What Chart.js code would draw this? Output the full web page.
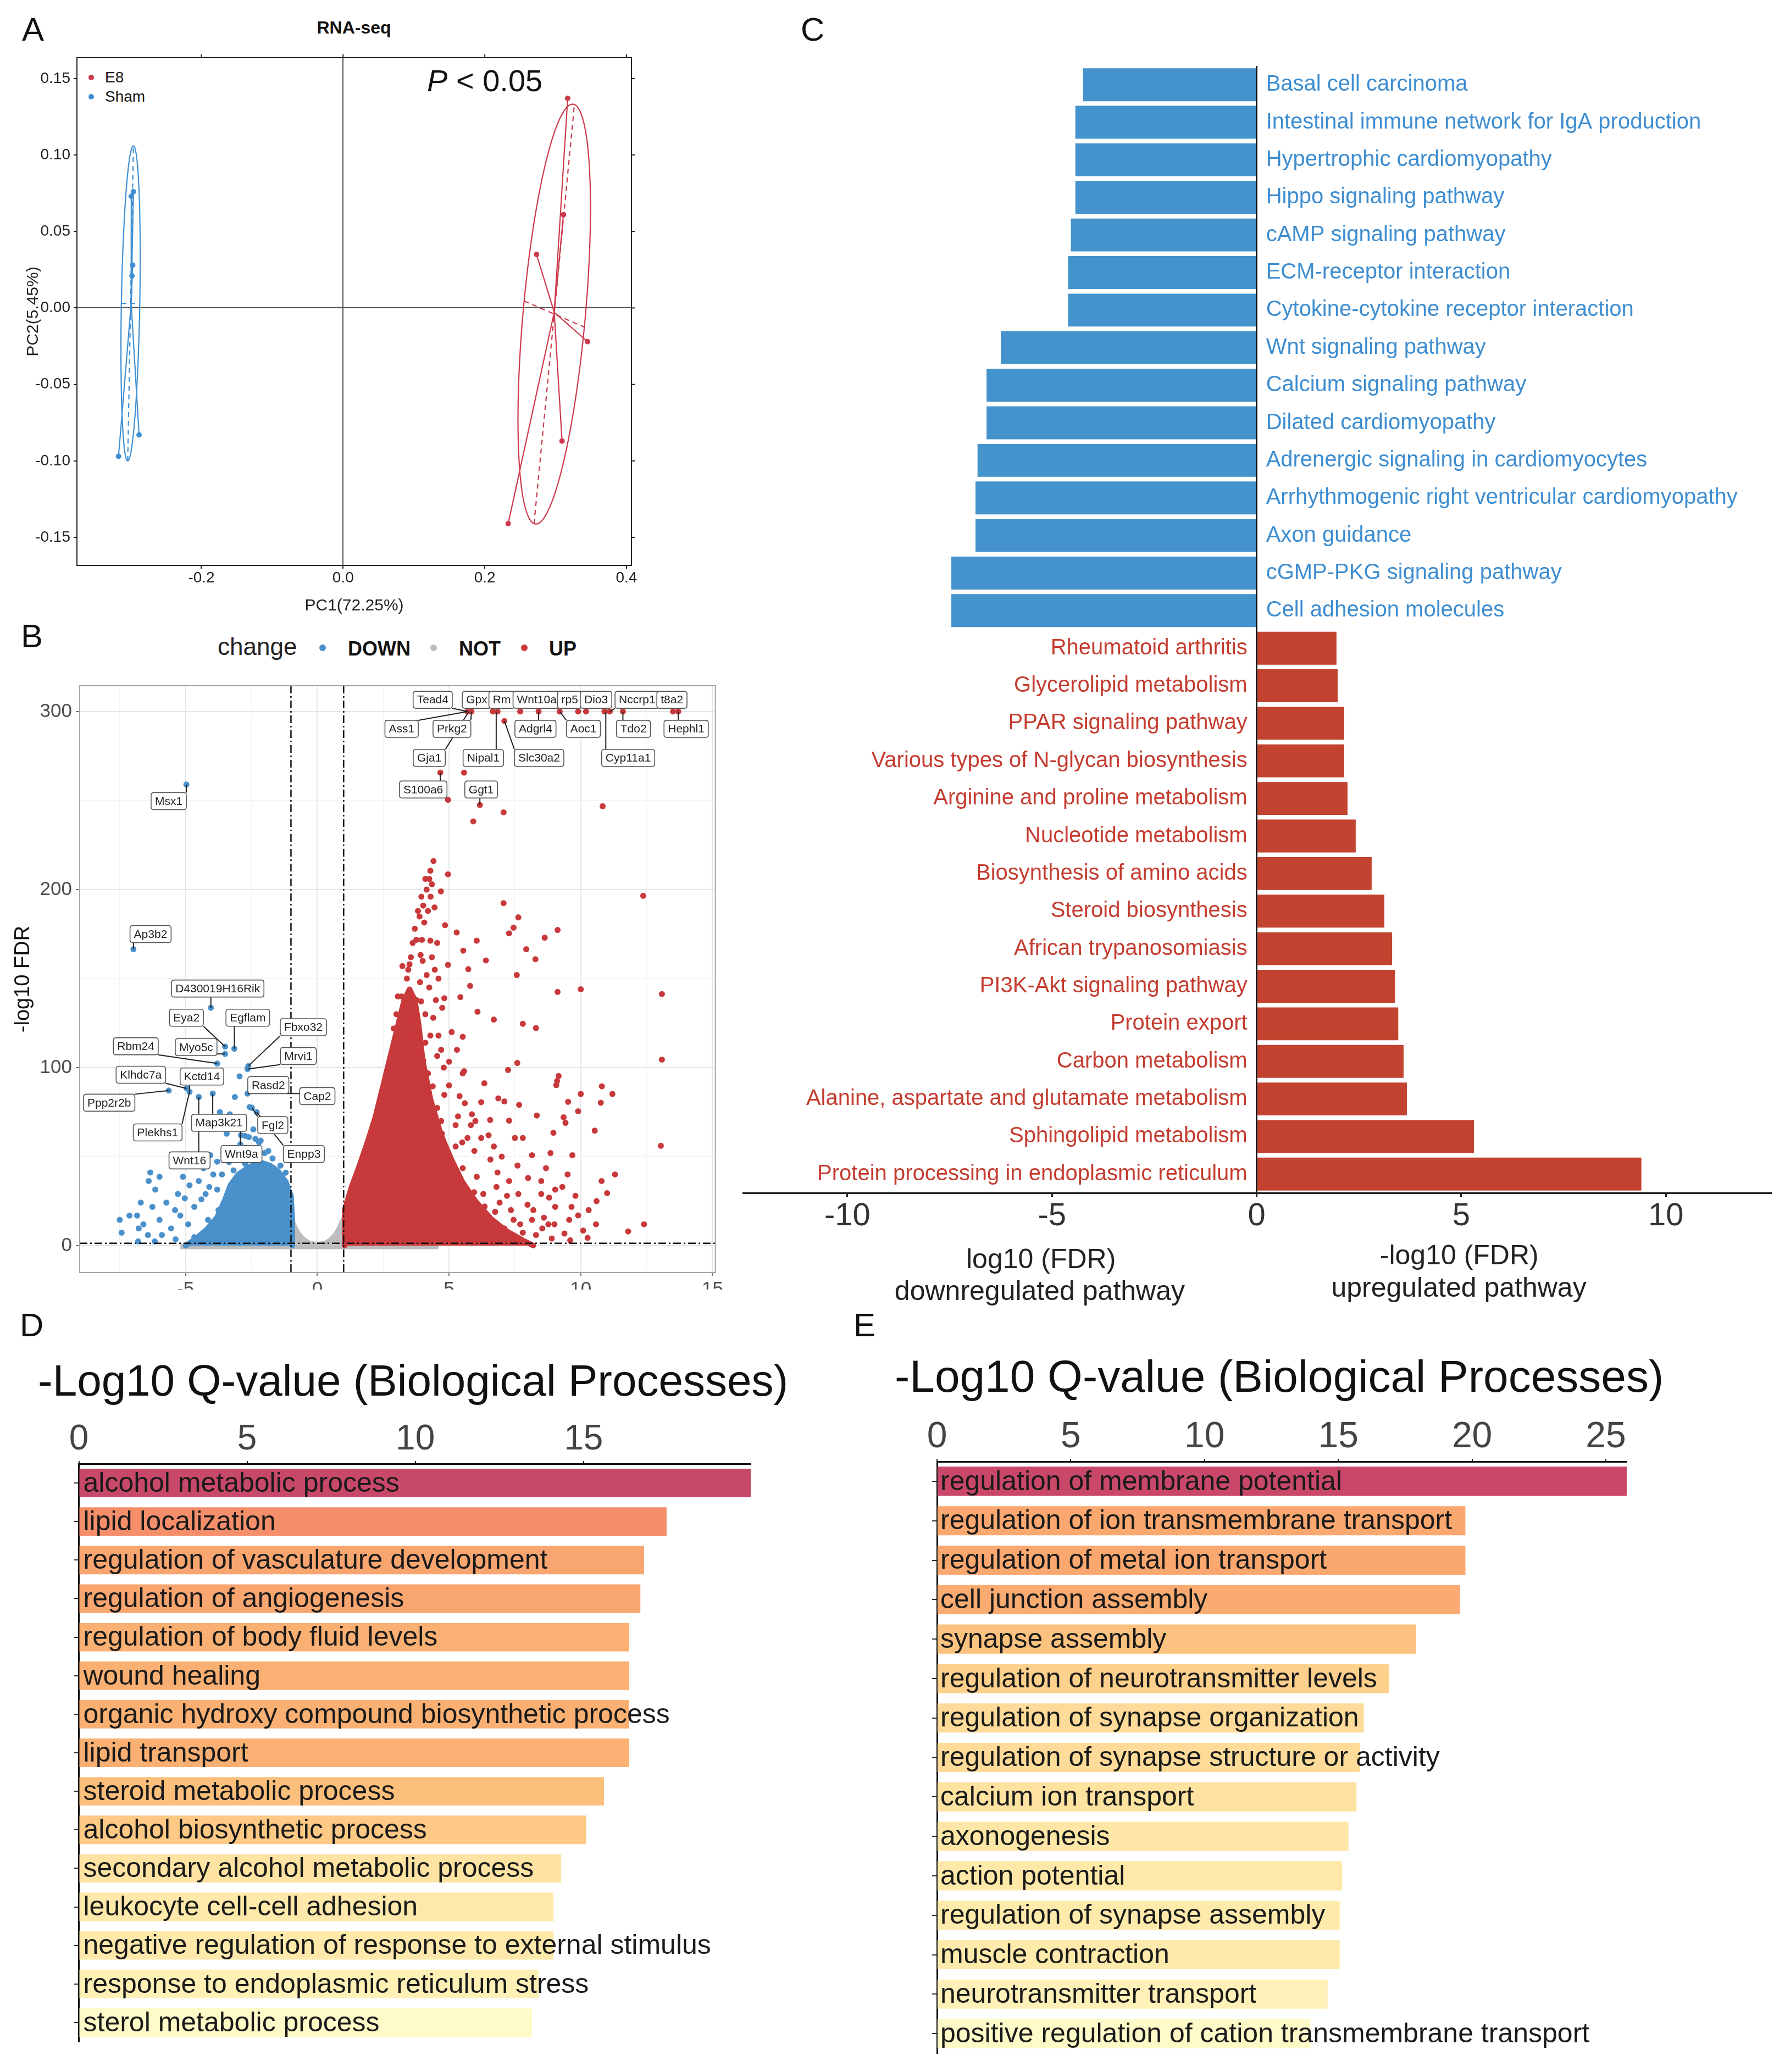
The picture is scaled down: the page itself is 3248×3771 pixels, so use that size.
<!DOCTYPE html>
<html>
<head>
<meta charset="utf-8">
<script src="https://cdn.jsdelivr.net/npm/chart.js@4.4.1/dist/chart.umd.min.js"></script>
<style>
  html, body { margin: 0; padding: 0; background: #fff; }
  #page { position: relative; width: 3248px; height: 3771px; overflow: hidden; background: #fff;
          font-family: "Liberation Sans", Arial, sans-serif; color: #111; }
  .txt { position: absolute; white-space: nowrap; line-height: 1; }
  .dot { position: absolute; border-radius: 50%; }
</style>
</head>
<body>
<div id="page"></div>
<script>
// ---------- A: PCA ----------
const e8Points = [[0.317, 0.137], [0.311, 0.061], [0.273, 0.035], [0.345, -0.022], [0.309, -0.087], [0.233, -0.141]];
const shamPoints = [[-0.296, 0.076], [-0.299, 0.073], [-0.297, 0.028], [-0.298, 0.021], [-0.317, -0.097], [-0.288, -0.083]];
// ellipse: centre, major semi-axis vector (u), minor semi-axis vector (v)
const e8Ellipse = {cx: 0.298, cy: -0.004, ux: 0.0285, uy: 0.137, vx: 0.0425, vy: -0.0085};
const shamEllipse = {cx: -0.300, cy: 0.003, ux: 0.004, uy: 0.103, vx: 0.013, vy: 0};
const pcaXTicks = [-0.2, 0, 0.2, 0.4];
const pcaYTicks = [-0.15, -0.10, -0.05, 0, 0.05, 0.10, 0.15];

// ---------- B: volcano ----------
const upGenes = [
  [5.70,300],[5.85,300],[6.66,300],[6.84,300],[7.70,300],[8.40,300],[9.20,300],[9.90,300],[10.20,300],[10.90,300],[11.10,300],[11.60,300],[13.50,300],[13.70,300],[7.10,294.7],
  [4.67,265.7],[5.57,265.7],[4.96,250.4],[6.17,247.5],[5.92,238.3],[7.07,243.4],[10.83,246.8],
  [4.41,216],[4.29,210.6],[4.10,206],[4.25,206],[4.35,203],[4.96,208.6],[4.69,199],[12.37,196.5],[7.07,192.4],[4.02,191],[3.88,184.9],[4.06,181.5],[7.63,184.4],[7.45,178.6],[7.28,175.4],[5.29,175.9],[9.12,177.3],[8.63,173],[3.76,171.8],[3.97,171.8],[4.29,171.3],[6.05,171.3],[3.92,163.3],[5.54,165.7],[7.93,166.5],[8.28,160.9],[6.40,160.2],[4.96,157.7],[5.73,155.3],[3.50,158],[4.46,155],[4.15,152],[7.57,152],[5.80,145.9],[9.12,142.5],[10.00,144],[13.08,141.3],[5.43,139.6],[4.82,139],[4.50,137.9],[3.94,137.2],[4.74,133.6],[6.08,131.4],[6.70,127],[7.80,124.6],[8.30,122.2],[5.52,117.3],[3.85,117],[4.29,118],[4.10,114],[7.59,102.6],[13.08,104.5],[5.00,103.3],[4.80,100],[7.24,98.7],[5.57,98],[9.16,95.3],[9.10,92.5],[6.34,91.2],[9.07,90.2],[10.80,89.5],[11.20,85.2],[10.00,85.2],[5.40,84],[4.20,84],[4.00,82],[6.87,82.7],[7.10,81],[7.66,79.1],[9.52,80.8],[10.76,80.3],[6.22,80.6],[5.87,73.8],[8.33,73.1],[9.35,72.1],[9.90,75.5],[7.28,70.2],[6.56,70.6],[9.42,69],[5.83,67.7],[5.25,67.7],[10.53,64.6],[8.96,63.4],[7.50,60.5],[6.70,55.7],[9.68,50.8],[13.04,56.1],[10.79,36.3],[11.00,29.5],[9.65,21.8],[10.09,8.5],[9.38,6.8],[10.58,12],[10.26,4.4],[8.60,15.7],[8.54,9.7],
  [5.52,43.5],[6.05,38.7],[6.57,48.4],[6.84,41.1],[7.28,36.3],[7.63,29],[7.98,23],[8.15,50.8],[8.68,43.5],[8.85,52],[8.50,36.3],[9.03,31.5],[6.30,29],[6.92,24.2],[7.45,14.5],[7.10,9.7],[7.80,7.3],[6.57,14.5],[5.87,19.4],[5.34,29],[4.99,36.3],[4.82,48.4],[4.46,55.7],[5.25,55.7],[5.70,60.5],[6.22,60.5],[4.73,62.9],[4.29,70.2],[4.55,77.4],[4.82,84.7],[4.38,89.5],[4.20,96.8],[4.02,104],[3.85,109],[4.55,106.5],[5.52,96.8],[5.34,72.6],[5.96,53.2],[7.80,60.5],[8.50,29],[9.03,21.8],[8.15,14.5],[8.77,12],[9.56,14.5],[9.90,17],[7.28,2.4],[6.22,7.3],[5.70,12],[5.25,17],[4.82,21.8],
  [3.23,157],[3.40,150],[3.06,140],[3.32,133],[3.58,126],[3.76,138],[3.58,118.5],[3.15,113.7],[3.40,104],[3.67,96.8],[3.94,89.5],[3.23,94.4],[3.67,82.3],[3.40,77.4],
  [3.55,162],[3.62,170],[3.70,178],[3.82,188],[3.95,196],[4.15,200],[4.30,196],[4.20,188],[4.45,190],[4.00,160],[4.25,145],[4.40,128],[3.45,155],[3.20,140],[3.00,130],[2.90,122],[3.35,120],[3.80,125],[4.60,118],[4.70,110],[3.90,148],[4.10,130],[4.35,162],[4.55,170],[4.85,180],[4.60,150],[5.10,120],[5.30,110],[5.00,90],[4.70,70],[5.60,80],[6.00,70],[5.50,58],[6.50,62],[7.00,50],[7.60,45],[8.00,38],[8.80,27],[9.30,33],[9.80,28],[10.30,20],[9.50,40],[7.20,28],[6.80,33],[8.20,20],[9.00,12],[10.60,25],[11.30,40],[12.40,12],[11.80,8],
  [5.05,40],[5.40,34],[5.95,30],[6.35,22],[6.75,19],[7.35,20],[7.70,12],[8.30,6],[8.90,4],[9.60,3],[6.00,10],[6.90,5],[5.60,6],[4.40,50],[4.70,40],[5.20,25],[4.10,66],[4.35,58],[3.95,74]
];
const downGenes = [
  [-4.97,259],[-6.98,166.5],[-4.04,133.6],[-3.50,111.8],[-3.15,110.6],[-3.50,107.7],[-3.80,102.3],[-2.62,100.9],[-2.65,99.2],[-2.95,95.1],[-5.64,87.1],[-4.96,88.3],[-4.85,86.4],[-4.50,83.5],[-3.97,85.4],[-3.32,73.8],[-2.65,85.4],[-3.13,83.5],[-2.57,77.9],[-2.48,77.4],[-2.30,75],[-3.00,70.2],[-3.70,75],[-3.44,62.9],[-2.90,62],[-2.60,61],[-2.35,60],[-2.15,59],[-1.86,53.2],[-3.80,47.2],[-2.92,71],
  [-6.34,41.1],[-5.99,38.7],[-6.40,36.3],[-6.15,31.5],[-7.13,16.9],[-7.50,14.5],[-7.43,7.3],[-6.84,16.9],[-6.78,9.7],[-6.80,2.4],
  [-5.99,14.5],[-5.73,24.2],[-6.26,21.8],[-5.29,29],[-5.03,26.6],[-4.85,33.9],[-5.20,16.9],[-5.55,9.7],[-4.50,36.3],[-4.32,43.5],[-4.67,21.8],[-4.15,14.5],[-4.24,29],[-3.80,31.5],[-3.62,40],[-3.18,42.3],[-2.74,46],[-3.44,24.2],[-3.97,7.3],[-4.67,4.8],[-5.38,3.6],[-5.90,6],[-6.60,12],[-6.43,6],[-6.17,2.4],[-6.70,24.2],[-5.10,38.7],[-4.76,46],[-4.06,50.8],[-3.27,52],[-2.57,50.8],[-2.92,56.9],[-2.21,58],[-2.43,65.3],[-2.74,61.7],
  [-3.95,40],[-4.10,33],[-4.40,26],[-3.75,20],[-4.90,12],[-5.40,20],[-3.55,48],[-2.00,52],[-1.70,49],[-1.40,45],[-1.20,41],[-3.35,47]
];
// outlines (upper edge) of the solid, overplotted clouds
const upCloud = [[1.04,0],[1.04,20],[1.3,33],[1.6,45],[1.9,58],[2.2,72],[2.5,90],[2.8,108],[3.1,126],[3.3,138],[3.5,144],[3.7,138],[3.85,124],[4.0,104],[4.3,82],[4.7,62],[5.1,48],[5.5,36],[6.0,25],[6.6,15],[7.2,8],[7.8,3],[8.2,0]];
const downCloud = [[-5.0,0],[-4.6,4],[-4.2,9],[-3.8,16],[-3.5,26],[-3.3,34],[-3.0,40],[-2.6,44],[-2.2,47],[-1.8,45],[-1.5,42],[-1.2,36],[-1.0,28],[-0.95,15],[-0.95,0]];
const notCloud = [[-1,0],[-1,15],[-0.85,10],[-0.7,6],[-0.5,3],[-0.3,1.2],[0,0.5],[0.3,1.2],[0.5,3],[0.7,6],[0.85,10],[1,15],[1,0]];
const notBand = [[-5.2,1.2],[4.6,1.2]];
const volcanoXTicks = [-7.5, -5, -2.5, 0, 2.5, 5, 7.5, 10, 12.5, 15];
const volcanoYTicks = [0, 50, 100, 150, 200, 250, 300];
const fcCut = 1, fdrCut = 1.301;
// gene, point x, point y, label x, label y
const geneLabels = [
  ['Tead4',5.70,300,4.38,306.6],['Gpx',5.85,300,6.05,306.6],['Rm',6.84,300,7.00,306.6],['Wnt10a',7.70,300,8.33,306.6],
  ['rp5',9.20,300,9.58,306.6],['Dio3',9.90,300,10.58,306.6],['Nccrp1',11.10,300,12.14,306.6],['t8a2',13.50,300,13.46,306.6],
  ['Ass1',5.70,300,3.20,290.3],['Prkg2',5.85,300,5.11,290.3],['Adgrl4',8.40,300,8.28,290.3],['Aoc1',9.20,300,10.10,290.3],
  ['Tdo2',11.60,300,12.00,290.3],['Hephl1',13.70,300,14.00,290.3],
  ['Gja1',5.75,300,4.25,273.9],['Nipal1',6.79,300,6.30,273.9],['Slc30a2',7.10,294.7,8.42,273.9],['Cyp11a1',10.95,300,11.80,273.9],
  ['S100a6',4.67,265.7,4.02,256.2],['Ggt1',6.17,247.5,6.22,256.2],
  ['Msx1',-4.97,259,-5.64,249.7],['Ap3b2',-6.98,166.5,-6.33,175],['D430019H16Rik',-4.04,133.6,-3.78,144.4],
  ['Eya2',-3.50,111.8,-4.97,128],['Egflam',-3.15,110.6,-2.64,128],['Fbxo32',-2.62,100.9,-0.53,122.7],
  ['Rbm24',-3.80,102.3,-6.89,112],['Myo5c',-3.50,107.7,-4.60,111.5],['Mrvi1',-2.65,99.2,-0.72,106.5],
  ['Klhdc7a',-4.96,88.3,-6.70,96],['Kctd14',-4.85,86.4,-4.38,95],['Ppp2r2b',-5.64,87.1,-7.90,80.3],
  ['Rasd2',-2.65,85.4,-1.86,90.2],['Cap2',-2.65,85.4,0.00,84],['Plekhs1',-4.85,86.4,-6.06,63.6],
  ['Map3k21',-3.97,85.4,-3.73,69],['Fgl2',-2.48,77.4,-1.69,67.7],['Wnt16',-4.50,83.5,-4.85,47.9],
  ['Wnt9a',-2.92,71,-2.88,51.5],['Enpp3',-2.30,75,-0.51,51.5]
];

// ---------- C: KEGG ----------
const downPathways = ['Basal cell carcinoma','Intestinal immune network for IgA production','Hypertrophic cardiomyopathy','Hippo signaling pathway','cAMP signaling pathway','ECM-receptor interaction','Cytokine-cytokine receptor interaction','Wnt signaling pathway','Calcium signaling pathway','Dilated cardiomyopathy','Adrenergic signaling in cardiomyocytes','Arrhythmogenic right ventricular cardiomyopathy','Axon guidance','cGMP-PKG signaling pathway','Cell adhesion molecules'];
const downLog10FDR = [-4.24, -4.43, -4.43, -4.43, -4.54, -4.61, -4.61, -6.25, -6.60, -6.60, -6.82, -6.87, -6.87, -7.46, -7.46];
const upPathways = ['Rheumatoid arthritis','Glycerolipid metabolism','PPAR signaling pathway','Various types of N-glycan biosynthesis','Arginine and proline metabolism','Nucleotide metabolism','Biosynthesis of amino acids','Steroid biosynthesis','African trypanosomiasis','PI3K-Akt signaling pathway','Protein export','Carbon metabolism','Alanine, aspartate and glutamate metabolism','Sphingolipid metabolism','Protein processing in endoplasmic reticulum'];
const upNegLog10FDR = [1.95, 1.98, 2.14, 2.14, 2.22, 2.42, 2.81, 3.12, 3.31, 3.38, 3.46, 3.59, 3.67, 5.31, 9.40];
const keggTicks = [-10, -5, 0, 5, 10];

// ---------- D / E: GO ----------
const goTermsD = ['alcohol metabolic process','lipid localization','regulation of vasculature development','regulation of angiogenesis','regulation of body fluid levels','wound healing','organic hydroxy compound biosynthetic process','lipid transport','steroid metabolic process','alcohol biosynthetic process','secondary alcohol metabolic process','leukocyte cell-cell adhesion','negative regulation of response to external stimulus','response to endoplasmic reticulum stress','sterol metabolic process'];
const qValuesD = [19.97, 17.47, 16.80, 16.69, 16.36, 16.36, 16.36, 16.36, 15.61, 15.08, 14.33, 14.11, 14.11, 13.67, 13.47];
const goTermsE = ['regulation of membrane potential','regulation of ion transmembrane transport','regulation of metal ion transport','cell junction assembly','synapse assembly','regulation of neurotransmitter levels','regulation of synapse organization','regulation of synapse structure or activity','calcium ion transport','axonogenesis','action potential','regulation of synapse assembly','muscle contraction','neurotransmitter transport','positive regulation of cation transmembrane transport'];
const qValuesE = [25.78, 19.75, 19.75, 19.55, 17.90, 16.89, 15.95, 15.81, 15.68, 15.38, 15.14, 15.05, 15.05, 14.60, 13.96];
const goTicksD = [0, 5, 10, 15];
const goTicksE = [0, 5, 10, 15, 20, 25];

// ---------- styles ----------
const colE8 = '#cc3a4c', colSham = '#3f8fd2';
const colDown = '#4a91cc', colUp = '#c8393b', colNot = '#bdbdbd';
const barBlue = '#4493cc', barRed = '#c2432f', txtBlue = '#3d8dd0', txtRed = '#c43b2e';
const goColorsD = ['#c8486a','#f58f6b','#f8a570','#f8a570','#fab072','#fab072','#fab072','#fab072','#fcbf7b','#fdc985','#fee3a2','#fee9aa','#fee9aa','#fff0b6','#fffbc8'];
const goColorsE = ['#c9486a','#fba870','#fba870','#faab72','#fcc27f','#fdd08c','#fedb98','#fedb98','#fee2a0','#fee7a6','#fee9a9','#feeaab','#feeaab','#fff1b8','#fffbc8'];
const FONT = '"Liberation Sans", Arial, sans-serif';

Chart.defaults.font.family = FONT;
Chart.defaults.color = '#222';

const page = document.getElementById('page');
function addText(html, left, baseline, size, opt) {
  opt = opt || {};
  const d = document.createElement('div');
  d.className = 'txt';
  d.innerHTML = html;
  d.style.fontSize = size + 'px';
  d.style.top = (baseline - 0.8465 * size) + 'px';
  d.style.left = left + 'px';
  if (opt.center) d.style.transform = 'translateX(-50%)';
  if (opt.bold) d.style.fontWeight = 'bold';
  if (opt.color) d.style.color = opt.color;
  page.appendChild(d);
}
function addDot(cx, cy, r, color) {
  const d = document.createElement('div');
  d.className = 'dot';
  d.style.cssText += `left:${cx - r}px;top:${cy - r}px;width:${2 * r}px;height:${2 * r}px;background:${color};`;
  page.appendChild(d);
}
function makeCanvas(left, top, w, h) {
  const c = document.createElement('canvas');
  c.width = w; c.height = h;
  c.style.cssText = `position:absolute;left:${left}px;top:${top}px;width:${w}px;height:${h}px;`;
  page.appendChild(c);
  return c.getContext('2d');
}
const fixTicks = vals => scale => { scale.ticks = vals.map(v => ({value: v})); };
const isMult = (v, s) => Math.abs(v / s - Math.round(v / s)) < 1e-6;
function seg(ctx, x1, y1, x2, y2) { ctx.beginPath(); ctx.moveTo(x1, y1); ctx.lineTo(x2, y2); ctx.stroke(); }
const base = {responsive: false, animation: false, devicePixelRatio: 1,
  plugins: {legend: {display: false}, tooltip: {enabled: false}}};

// ---------- panel letters and titles ----------
addText('A', 40, 75, 60);
addText('B', 38, 1179, 60);
addText('C', 1457, 75, 60);
addText('D', 36, 2433, 60);
addText('E', 1553, 2433, 60);
addText('RNA-seq', 644, 61, 32, {center: true, bold: true});
addText('<i>P</i> &lt; 0.05', 777, 166, 56);
addDot(166, 141, 5, colE8); addText('E8', 191, 151, 28);
addDot(166, 176, 5, colSham); addText('Sham', 191, 186, 28);
addText('change', 396, 1192, 44, {color: '#222'});
addDot(587, 1179, 6, colDown); addText('DOWN', 633, 1193, 36, {bold: true});
addDot(789, 1179, 6, colNot); addText('NOT', 835, 1193, 36, {bold: true});
addDot(954, 1179, 6, colUp); addText('UP', 999, 1193, 36, {bold: true});
addText('-Log10 Q-value (Biological Processes)', 69, 2541, 80);
addText('-Log10 Q-value (Biological Processes)', 1628, 2533, 82);

// ---------- A ----------
const pcaPlugin = {
  id: 'pcaShapes',
  beforeDatasetsDraw(chart) {
    const {ctx, scales: {x, y}} = chart;
    ctx.save();
    [[e8Points, e8Ellipse, colE8], [shamPoints, shamEllipse, colSham]].forEach(([pts, el, col]) => {
      ctx.strokeStyle = col; ctx.lineWidth = 2.2;
      ctx.beginPath();
      for (let k = 0; k <= 160; k++) {
        const t = k / 160 * 2 * Math.PI;
        const px = x.getPixelForValue(el.cx + el.ux * Math.cos(t) + el.vx * Math.sin(t));
        const py = y.getPixelForValue(el.cy + el.uy * Math.cos(t) + el.vy * Math.sin(t));
        if (k) ctx.lineTo(px, py); else ctx.moveTo(px, py);
      }
      ctx.stroke();
      ctx.setLineDash([9, 7]);
      seg(ctx, x.getPixelForValue(el.cx - el.ux), y.getPixelForValue(el.cy - el.uy), x.getPixelForValue(el.cx + el.ux), y.getPixelForValue(el.cy + el.uy));
      seg(ctx, x.getPixelForValue(el.cx - el.vx), y.getPixelForValue(el.cy - el.vy), x.getPixelForValue(el.cx + el.vx), y.getPixelForValue(el.cy + el.vy));
      ctx.setLineDash([]);
      const mx = pts.reduce((s, p) => s + p[0], 0) / pts.length;
      const my = pts.reduce((s, p) => s + p[1], 0) / pts.length;
      pts.forEach(p => seg(ctx, x.getPixelForValue(mx), y.getPixelForValue(my), x.getPixelForValue(p[0]), y.getPixelForValue(p[1])));
    });
    ctx.restore();
  },
  afterDraw(chart) {
    const {ctx, chartArea: a, scales: {x, y}} = chart;
    ctx.save();
    ctx.strokeStyle = '#222'; ctx.lineWidth = 2;
    ctx.strokeRect(a.left, a.top, a.right - a.left, a.bottom - a.top);
    pcaXTicks.forEach(v => { const px = x.getPixelForValue(v); seg(ctx, px, a.top, px, a.top - 6); });
    pcaYTicks.forEach(v => { const py = y.getPixelForValue(v); seg(ctx, a.right, py, a.right + 6, py); });
    ctx.restore();
  }
};
new Chart(makeCanvas(0, 0, 1200, 1130), {
  type: 'scatter',
  data: {datasets: [
    {label: 'E8', data: e8Points.map(p => ({x: p[0], y: p[1]})), backgroundColor: colE8, pointRadius: 5, pointBorderWidth: 0},
    {label: 'Sham', data: shamPoints.map(p => ({x: p[0], y: p[1]})), backgroundColor: colSham, pointRadius: 5, pointBorderWidth: 0}
  ]},
  options: Object.assign({}, base, {
    layout: {padding: {left: 0, top: 105, right: 51, bottom: 0}},
    scales: {
      x: {type: 'linear', min: -0.3757, max: 0.407, afterBuildTicks: fixTicks(pcaXTicks), afterFit: s => { s.height = 101; },
        ticks: {callback: v => v.toFixed(1), font: {size: 28}, color: '#222', padding: 0, autoSkip: false, maxRotation: 0},
        grid: {color: c => (c.tick.value === 0 ? '#555' : 'rgba(0,0,0,0)'), lineWidth: 2, tickColor: '#222', tickLength: 6},
        border: {display: true, color: '#222', width: 2},
        title: {display: true, text: 'PC1(72.25%)', font: {size: 30}, color: '#222', padding: {top: 0, bottom: 9}}},
      y: {type: 'linear', min: -0.1683, max: 0.1636, afterBuildTicks: fixTicks(pcaYTicks), afterFit: s => { s.width = 140; },
        ticks: {callback: v => v.toFixed(2), font: {size: 28}, color: '#222', padding: 6, autoSkip: false},
        grid: {color: c => (c.tick.value === 0 ? '#555' : 'rgba(0,0,0,0)'), lineWidth: 2, tickColor: '#222', tickLength: 6},
        border: {display: true, color: '#222', width: 2},
        title: {display: true, text: 'PC2(5.45%)', font: {size: 30}, color: '#222', padding: {top: 43, bottom: 0}}}
    }
  }),
  plugins: [pcaPlugin]
});

// ---------- B ----------
function roundBox(ctx, l, t, w, h, r) {
  ctx.beginPath();
  ctx.moveTo(l + r, t); ctx.lineTo(l + w - r, t); ctx.quadraticCurveTo(l + w, t, l + w, t + r);
  ctx.lineTo(l + w, t + h - r); ctx.quadraticCurveTo(l + w, t + h, l + w - r, t + h);
  ctx.lineTo(l + r, t + h); ctx.quadraticCurveTo(l, t + h, l, t + h - r);
  ctx.lineTo(l, t + r); ctx.quadraticCurveTo(l, t, l + r, t);
  ctx.closePath();
}
const volcanoPlugin = {
  id: 'volcanoExtras',
  afterDatasetsDraw(chart) {
    const {ctx, chartArea: a, scales: {x, y}} = chart;
    ctx.save();
    ctx.strokeStyle = '#111'; ctx.lineWidth = 2.5; ctx.setLineDash([14, 5, 3, 5]);
    [-fcCut, fcCut].forEach(v => { const px = x.getPixelForValue(v); seg(ctx, px, a.top, px, a.bottom); });
    const py0 = y.getPixelForValue(fdrCut); seg(ctx, a.left, py0, a.right, py0);
    ctx.setLineDash([]);
    ctx.font = '21px ' + FONT;
    const boxes = geneLabels.map(g => {
      const w = ctx.measureText(g[0]).width + 14, h = 31;
      const cx = x.getPixelForValue(g[3]), cy = y.getPixelForValue(g[4]);
      return {text: g[0], px: x.getPixelForValue(g[1]), py: y.getPixelForValue(g[2]), l: cx - w / 2, t: cy - h / 2, w, h, cx, cy};
    });
    ctx.strokeStyle = '#222'; ctx.lineWidth = 2;
    boxes.forEach(b => {
      const ex = Math.max(b.l, Math.min(b.px, b.l + b.w));
      const ey = Math.max(b.t, Math.min(b.py, b.t + b.h));
      if (Math.hypot(ex - b.px, ey - b.py) > 10) seg(ctx, ex, ey, b.px, b.py);
    });
    boxes.forEach(b => {
      roundBox(ctx, b.l, b.t, b.w, b.h, 5);
      ctx.fillStyle = '#fff'; ctx.fill();
      ctx.strokeStyle = '#555'; ctx.lineWidth = 1.6; ctx.stroke();
      ctx.fillStyle = '#222'; ctx.textAlign = 'center'; ctx.textBaseline = 'middle';
      ctx.fillText(b.text, b.cx, b.cy + 1);
    });
    ctx.restore();
  },
  afterDraw(chart) {
    const {ctx, chartArea: a} = chart;
    ctx.save(); ctx.strokeStyle = '#a6a6a6'; ctx.lineWidth = 2;
    ctx.strokeRect(a.left, a.top, a.right - a.left, a.bottom - a.top);
    ctx.restore();
  }
};
const xy = arr => arr.map(p => ({x: p[0], y: p[1]}));
const cloud = (arr, col, order) => ({data: xy(arr), showLine: true, fill: 'origin', backgroundColor: col, borderColor: col,
  borderWidth: 10, borderJoinStyle: 'round', borderCapStyle: 'round', pointRadius: 0, tension: 0, order});
new Chart(makeCanvas(0, 1130, 1320, 1217), {
  type: 'scatter',
  data: {datasets: [
    {data: xy(notBand), showLine: true, fill: {value: -2}, backgroundColor: colNot, borderColor: colNot, borderWidth: 0, pointRadius: 0, order: 6},
    cloud(notCloud, colNot, 5),
    cloud(downCloud, colDown, 4),
    cloud(upCloud, colUp, 3),
    {data: xy(downGenes), backgroundColor: colDown, pointRadius: 5.5, pointBorderWidth: 0, order: 2},
    {data: xy(upGenes), backgroundColor: colUp, pointRadius: 5.5, pointBorderWidth: 0, order: 1}
  ]},
  options: Object.assign({}, base, {
    layout: {padding: {left: 0, top: 118, right: 18, bottom: 0}},
    scales: {
      x: {type: 'linear', min: -9.02, max: 15.11, afterBuildTicks: fixTicks(volcanoXTicks), afterFit: s => { s.height = 31; },
        ticks: {callback: v => (isMult(v, 5) ? String(v) : ''), font: {size: 35}, color: '#4d4d4d', padding: 4, autoSkip: false, maxRotation: 0},
        grid: {color: c => (isMult(c.tick.value, 5) ? '#e6e6e6' : '#f3f3f3'), lineWidth: c => (isMult(c.tick.value, 5) ? 2 : 1.2),
          tickColor: c => (isMult(c.tick.value, 5) ? '#777' : 'rgba(0,0,0,0)'), tickLength: 6},
        border: {display: true, color: '#a6a6a6', width: 2}},
      y: {type: 'linear', min: -15.1, max: 314.5, afterBuildTicks: fixTicks(volcanoYTicks), afterFit: s => { s.width = 145; },
        ticks: {callback: v => (isMult(v, 100) ? String(v) : ''), font: {size: 35}, color: '#4d4d4d', padding: 7, autoSkip: false},
        grid: {color: c => (isMult(c.tick.value, 100) ? '#e6e6e6' : '#f3f3f3'), lineWidth: c => (isMult(c.tick.value, 100) ? 2 : 1.2),
          tickColor: c => (isMult(c.tick.value, 100) ? '#777' : 'rgba(0,0,0,0)'), tickLength: 7},
        border: {display: true, color: '#a6a6a6', width: 2},
        title: {display: true, text: '-log10 FDR', font: {size: 38}, color: '#111', padding: {top: 20, bottom: 0}}}
    }
  }),
  plugins: [volcanoPlugin]
});

// ---------- C ----------
const pathwayNames = downPathways.concat(upPathways);
const pathwayValues = downLog10FDR.concat(upNegLog10FDR);
const keggPlugin = {
  id: 'keggLabels',
  afterDatasetsDraw(chart) {
    const {ctx, chartArea: a, scales: {x, y}} = chart;
    const x0 = x.getPixelForValue(0);
    ctx.save();
    ctx.font = '40px ' + FONT; ctx.textBaseline = 'middle';
    pathwayNames.forEach((name, i) => {
      const py = y.getPixelForValue(i);
      if (pathwayValues[i] < 0) { ctx.fillStyle = txtBlue; ctx.textAlign = 'left'; ctx.fillText(name, x0 + 17, py); }
      else { ctx.fillStyle = txtRed; ctx.textAlign = 'right'; ctx.fillText(name, x0 - 17, py); }
    });
    ctx.font = '50px ' + FONT; ctx.fillStyle = '#222'; ctx.textAlign = 'center';
    ctx.fillText('log10 (FDR)', x.getPixelForValue(-5.27), a.bottom + 123);
    ctx.fillText('downregulated pathway', x.getPixelForValue(-5.3), a.bottom + 181);
    ctx.fillText('-log10 (FDR)', x.getPixelForValue(4.95), a.bottom + 116);
    ctx.fillText('upregulated pathway', x.getPixelForValue(4.94), a.bottom + 175);
    ctx.restore();
  }
};
new Chart(makeCanvas(1350, 60, 1898, 2340), {
  type: 'bar',
  data: {labels: pathwayNames, datasets: [{data: pathwayValues,
    backgroundColor: pathwayValues.map(v => (v < 0 ? barBlue : barRed)), barPercentage: 0.876, categoryPercentage: 1}]},
  options: Object.assign({}, base, {
    indexAxis: 'y',
    layout: {padding: {left: 2, top: 60, right: 26, bottom: 0}},
    scales: {
      x: {type: 'linear', min: -12.55, max: 12.56, afterBuildTicks: fixTicks(keggTicks), afterFit: s => { s.height = 229; },
        ticks: {font: {size: 58}, color: '#333', padding: 0, autoSkip: false, maxRotation: 0},
        grid: {color: c => (c.tick.value === 0 ? '#111' : 'rgba(0,0,0,0)'), lineWidth: 3, tickColor: '#222', tickLength: 8},
        border: {display: true, color: '#222', width: 3}},
      y: {display: false}
    }
  }),
  plugins: [keggPlugin]
});

// ---------- D / E ----------
function goChart(left, w, terms, vals, colors, ticks, max, tickSize, dims) {
  const labelPlugin = {
    id: 'goLabels',
    afterDatasetsDraw(chart) {
      const {ctx, chartArea: a, scales: {y}} = chart;
      ctx.save();
      ctx.font = '50px ' + FONT; ctx.fillStyle = '#1a1a1a'; ctx.textAlign = 'left'; ctx.textBaseline = 'middle';
      terms.forEach((t, i) => ctx.fillText(t, a.left + dims.textGap, y.getPixelForValue(i) + 2));
      ctx.restore();
    }
  };
  new Chart(makeCanvas(left, 2440, w, 1331), {
    type: 'bar',
    data: {labels: terms, datasets: [{data: vals, backgroundColor: colors, barPercentage: 0.74, categoryPercentage: 1}]},
    options: Object.assign({}, base, {
      indexAxis: 'y',
      layout: {padding: {left: 0, top: 0, right: dims.right, bottom: dims.bottom}},
      scales: {
        x: {type: 'linear', position: 'top', min: 0, max: max, afterBuildTicks: fixTicks(ticks), afterFit: s => { s.height = dims.top; },
          ticks: {font: {size: tickSize}, color: '#444', padding: 0, autoSkip: false, maxRotation: 0},
          grid: {drawOnChartArea: false, tickColor: '#222', tickLength: 5, lineWidth: 2},
          border: {display: true, color: '#111', width: 3}},
        y: {afterFit: s => { s.width = dims.left; },
          ticks: {display: false},
          grid: {drawOnChartArea: false, offset: false, tickColor: '#333', tickLength: 9, lineWidth: 2},
          border: {display: true, color: '#111', width: 3}}
      }
    }),
    plugins: [labelPlugin]
  });
}
goChart(0, 1500, goTermsD, qValuesD, goColorsD, goTicksD, 19.97, 64, {left: 143.5, right: 134, top: 224, bottom: 55, textGap: 8});
goChart(1530, 1718, goTermsE, qValuesE, goColorsE, goTicksE, 25.78, 66, {left: 175, right: 288, top: 220, bottom: 34, textGap: 6});
</script>
</body>
</html>
